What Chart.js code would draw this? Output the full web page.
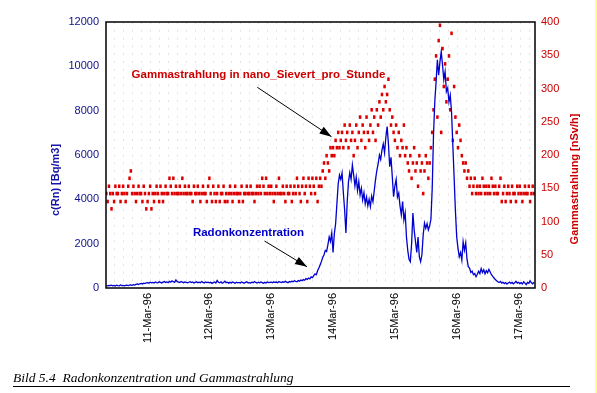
<!DOCTYPE html>
<html>
<head>
<meta charset="utf-8">
<script src="https://cdn.jsdelivr.net/npm/chart.js@4/dist/chart.umd.min.js"></script>
<style>
  html, body { margin: 0; padding: 0; background: #fff; }
  #wrap { position: relative; width: 597px; height: 393px; overflow: hidden; }
  #cap { position: absolute; left: 13px; top: 371px; font: italic 13.5px "Liberation Serif", "Times New Roman", serif; line-height: 14px; color: #000; white-space: pre; }
  #capline { position: absolute; left: 13px; top: 386px; width: 557px; height: 1px; background: #000; }
  #edge { position: absolute; right: 0; top: 0; width: 2px; height: 393px; background: #ffff88; }
</style>
</head>
<body>
<div id="wrap">
  <canvas id="chart" width="597" height="393"></canvas>
  <div id="cap">Bild 5.4  Radonkonzentration und Gammastrahlung</div>
  <div id="capline"></div>
  <div id="edge"></div>
</div>
<script>
// time axis: hours since 10-Mar-96 00:00, one sample every 30 minutes
var startHour = 8;
var stepHours = 0.5;

var dayTicks = [24, 48, 72, 96, 120, 144, 168];
var dayLabels = ['11-Mar-96', '12Mar-96', '13Mar-96', '14Mar-96', '15Mar-96', '16Mar-96', '17Mar-96'];

// Radon concentration, Bq/m3
var radonValues = [
  // 10 Mar
  110, 95, 120, 105, 130, 100, 115, 90, 125, 110, 100, 135, 105, 120, 95, 115,
  130, 110, 125, 140, 120, 150, 135, 165, 180, 160, 190, 210, 185, 220, 200, 235,
  // 11 Mar
  240, 215, 260, 230, 250, 225, 270, 245, 235, 280, 255, 230, 265, 290, 250, 275,
  240, 300, 260, 320, 285, 255, 360, 290, 270, 250, 295, 265, 240, 275, 255, 230,
  260, 285, 245, 270, 225, 255, 280, 240, 265, 235, 290, 255, 230, 270, 245, 260,
  // 12 Mar
  230, 255, 210, 245, 270, 225, 340, 260, 235, 280, 215, 250, 310, 240, 265, 220,
  255, 230, 275, 245, 215, 260, 235, 250, 225, 270, 240, 210, 255, 285, 235, 245,
  220, 265, 240, 290, 250, 225, 260, 235, 275, 245, 215, 255, 230, 270, 240, 250,
  // 13 Mar
  260, 240, 285, 250, 270, 235, 295, 260, 245, 280, 255, 300, 265, 240, 290, 270,
  310, 285, 330, 300, 280, 340, 310, 360, 330, 380, 350, 420, 390, 450, 410, 500,
  470, 560, 640, 600, 780, 900, 1050, 1200, 1380, 1500, 1700, 1650, 1950, 2300, 2100, 2480,
  // 14 Mar
  1600, 2450, 2900, 3800, 4700, 5100, 4900, 5190, 4300, 3520, 2480, 3900, 4800, 5200, 4900, 5550,
  5100, 4600, 5000, 4400, 4800, 4200, 4500, 3970, 4300, 3800, 4100, 3700, 4000, 3670, 4150, 3900,
  4400, 4900, 5300, 5600, 6000, 5800, 6230, 6500, 6100, 6800, 7280, 6500, 5470, 5900, 5020, 4120,
  // 15 Mar
  4600, 4900, 4100, 4280, 3700, 3300, 3900, 3070, 3400, 2300, 1700, 1300, 1190, 2000, 3380, 2600,
  2100, 1600, 2300, 1400, 1190, 1500, 2400, 2930, 2700, 2900, 2620, 2800, 3100, 4500, 6900, 8400,
  9300, 10300, 9600, 10200, 10660, 10060, 9400, 9760, 8860, 9020, 8400, 8700, 7940, 6450, 5000, 3500,
  // 16 Mar
  2310, 1800, 1410, 1600, 1260, 2090, 1700, 2030, 1300, 960, 900, 700, 760, 600, 650, 510,
  620, 760, 650, 880, 700, 820, 640, 780, 690, 840, 720, 600, 520, 450, 380, 330,
  285, 250, 300, 220, 260, 200, 245, 180, 230, 270, 210, 250, 190, 240, 300, 220,
  // 17 Mar
  260, 200, 240, 180, 280, 220, 150, 250, 210, 320, 230, 190, 260
];

// Gamma dose rate, nSv/h
var gammaValues = [
  // 10 Mar
  142, 130, 153, 142, 119, 142, 130, 153, 142, 142, 153, 130, 142, 153, 142, 130,
  142, 153, 165, 176, 142, 153, 142, 130, 142, 153, 142, 142, 130, 153, 142, 119,
  // 11 Mar
  130, 142, 153, 119, 142, 130, 142, 153, 142, 130, 153, 142, 130, 142, 153, 142,
  142, 165, 153, 142, 165, 142, 153, 142, 142, 153, 142, 165, 142, 153, 142, 142,
  153, 142, 142, 130, 153, 142, 142, 153, 142, 130, 142, 153, 142, 142, 130, 153,
  // 12 Mar
  165, 142, 130, 153, 142, 130, 142, 153, 130, 142, 142, 153, 130, 142, 130, 142,
  153, 142, 130, 142, 153, 142, 142, 130, 142, 153, 130, 142, 142, 153, 142, 142,
  153, 142, 142, 130, 142, 153, 142, 153, 142, 165, 153, 142, 165, 142, 153, 142,
  // 13 Mar
  153, 142, 130, 142, 153, 142, 165, 142, 142, 153, 142, 130, 153, 142, 142, 153,
  130, 142, 153, 142, 165, 153, 142, 130, 153, 165, 142, 153, 130, 165, 153, 142,
  165, 153, 142, 165, 130, 153, 165, 153, 176, 188, 165, 199, 188, 176, 211, 199,
  // 14 Mar
  211, 199, 222, 211, 234, 211, 222, 234, 211, 245, 222, 234, 211, 245, 222, 234,
  199, 222, 245, 211, 234, 257, 222, 245, 234, 211, 257, 234, 222, 245, 268, 234,
  257, 222, 268, 245, 280, 257, 291, 268, 303, 280, 291, 314, 268, 245, 257, 234,
  // 15 Mar
  222, 245, 211, 234, 199, 222, 211, 245, 199, 211, 188, 176, 199, 165, 188, 211,
  176, 188, 153, 199, 176, 188, 142, 176, 199, 188, 165, 188, 211, 234, 268, 314,
  349, 257, 372, 395, 234, 360, 303, 337, 280, 314, 349, 268, 383, 222, 303, 257,
  // 16 Mar
  234, 211, 245, 222, 199, 188, 176, 188, 165, 176, 153, 165, 142, 153, 165, 142,
  153, 142, 153, 142, 165, 153, 142, 153, 142, 153, 142, 165, 153, 142, 153, 142,
  142, 153, 165, 130, 142, 153, 130, 142, 153, 142, 130, 153, 142, 142, 130, 153,
  // 17 Mar
  142, 153, 142, 130, 142, 153, 142, 142, 153, 130, 142, 153, 142
];

// annotation anchors in data units (hours, Bq/m3)
var gammaNote = { text: 'Gammastrahlung in nano_Sievert_pro_Stunde', x: 17.8, y: 9610, from: [66.6, 9054], to: [95.4, 6825] };
var radonNote = { text: 'Radonkonzentration', x: 41.6, y: 2510, from: [69.4, 2120], to: [85.9, 960] };

var radonPoints = radonValues.map(function (v, i) { return { x: startHour + i * stepHours, y: v }; });
var gammaPoints = gammaValues.map(function (v, i) { return { x: startHour + i * stepHours, y: v }; });

Chart.defaults.font.family = '"Liberation Sans", Arial, sans-serif';

function arrow(ctx, x1, y1, x2, y2) {
  var ang = Math.atan2(y2 - y1, x2 - x1);
  ctx.beginPath();
  ctx.moveTo(x1, y1);
  ctx.lineTo(x2, y2);
  ctx.stroke();
  ctx.beginPath();
  ctx.moveTo(x2, y2);
  ctx.lineTo(x2 - 12 * Math.cos(ang) + 4 * Math.sin(ang), y2 - 12 * Math.sin(ang) - 4 * Math.cos(ang));
  ctx.lineTo(x2 - 12 * Math.cos(ang) - 4 * Math.sin(ang), y2 - 12 * Math.sin(ang) + 4 * Math.cos(ang));
  ctx.closePath();
  ctx.fill();
}

var overlay = {
  id: 'overlay',
  afterDraw: function (chart) {
    var ctx = chart.ctx, a = chart.chartArea;
    var xs = chart.scales.x, ys = chart.scales.y;
    ctx.save();
    // frame
    ctx.strokeStyle = '#000';
    ctx.lineWidth = 1.5;
    ctx.strokeRect(a.left, a.top, a.right - a.left, a.bottom - a.top);

    // axis titles (both read bottom to top)
    ctx.font = 'bold 11px "Liberation Sans", Arial, sans-serif';
    ctx.textAlign = 'center';
    ctx.textBaseline = 'middle';
    ctx.save();
    ctx.translate(56, 180);
    ctx.rotate(-Math.PI / 2);
    ctx.fillStyle = '#1414a8';
    ctx.fillText('c(Rn) [Bq/m3]', 0, 0);
    ctx.restore();
    ctx.save();
    ctx.translate(575, 179);
    ctx.rotate(-Math.PI / 2);
    ctx.fillStyle = '#cc0000';
    ctx.fillText('Gammastrahlung [nSv/h]', 0, 0);
    ctx.restore();

    // notes with arrows
    ctx.font = 'bold 11.5px "Liberation Sans", Arial, sans-serif';
    ctx.textAlign = 'left';
    ctx.fillStyle = '#cc0000';
    ctx.fillText(gammaNote.text, xs.getPixelForValue(gammaNote.x), ys.getPixelForValue(gammaNote.y));
    ctx.fillStyle = '#0000cc';
    ctx.fillText(radonNote.text, xs.getPixelForValue(radonNote.x), ys.getPixelForValue(radonNote.y));
    ctx.strokeStyle = '#000';
    ctx.fillStyle = '#000';
    ctx.lineWidth = 1;
    [gammaNote, radonNote].forEach(function (n) {
      arrow(ctx, xs.getPixelForValue(n.from[0]), ys.getPixelForValue(n.from[1]),
        xs.getPixelForValue(n.to[0]), ys.getPixelForValue(n.to[1]));
    });
    ctx.restore();
  }
};

var ctx = document.getElementById('chart').getContext('2d');
var chart = new Chart(ctx, {
  type: 'line',
  data: {
    datasets: [{
      label: 'Radonkonzentration',
      data: radonPoints,
      yAxisID: 'y',
      borderColor: '#0000d0',
      borderWidth: 1.3,
      pointRadius: 0,
      tension: 0
    }, {
      label: 'Gammastrahlung',
      data: gammaPoints,
      yAxisID: 'y2',
      showLine: false,
      pointStyle: 'line',
      rotation: 90,
      pointRadius: 1.8,
      borderWidth: 2.5,
      borderColor: '#dd0000',
      backgroundColor: '#dd0000'
    }]
  },
  options: {
    responsive: false,
    animation: false,
    events: [],
    layout: { padding: { top: 22, left: 0, right: 0, bottom: 0 } },
    plugins: { legend: { display: false }, tooltip: { enabled: false } },
    scales: {
      x: {
        type: 'linear',
        position: 'bottom',
        min: 7.86,
        max: 174.4,
        afterBuildTicks: function (s) { s.ticks = dayTicks.map(function (v) { return { value: v }; }); },
        afterFit: function (s) { s.height = 105; },
        grid: { display: false, drawTicks: false },
        border: { display: false },
        ticks: {
          autoSkip: false,
          minRotation: 90,
          maxRotation: 90,
          padding: 5,
          color: '#000',
          font: { size: 11 },
          callback: function (v) { return dayLabels[dayTicks.indexOf(v)]; }
        }
      },
      gx: {
        type: 'linear',
        position: 'bottom',
        min: 7.86,
        max: 174.4,
        afterBuildTicks: function (s) {
          var t = [];
          for (var h = 11.2; h < 174.4; h += 3.5) t.push({ value: h });
          s.ticks = t;
        },
        afterFit: function (s) { s.height = 0; },
        ticks: { display: false },
        grid: { color: '#e2e2e2', lineWidth: 1, drawTicks: false },
        border: { display: false, dash: [2, 5.8] }
      },
      y: {
        position: 'left',
        min: 0,
        max: 12000,
        afterFit: function (s) { s.width = 106; },
        grid: { display: false, drawTicks: false },
        border: { display: false },
        ticks: { stepSize: 2000, padding: 7, color: '#10108a', font: { size: 11 },
          callback: function (v) { return String(v); } }
      },
      y2: {
        position: 'right',
        min: 0,
        max: 400,
        afterFit: function (s) { s.width = 62; },
        grid: { display: false, drawTicks: false },
        border: { display: false },
        ticks: { stepSize: 50, padding: 6, color: '#cc0000', font: { size: 11 },
          callback: function (v) { return String(v); } }
      }
    }
  },
  plugins: [overlay]
});
</script>
</body>
</html>
